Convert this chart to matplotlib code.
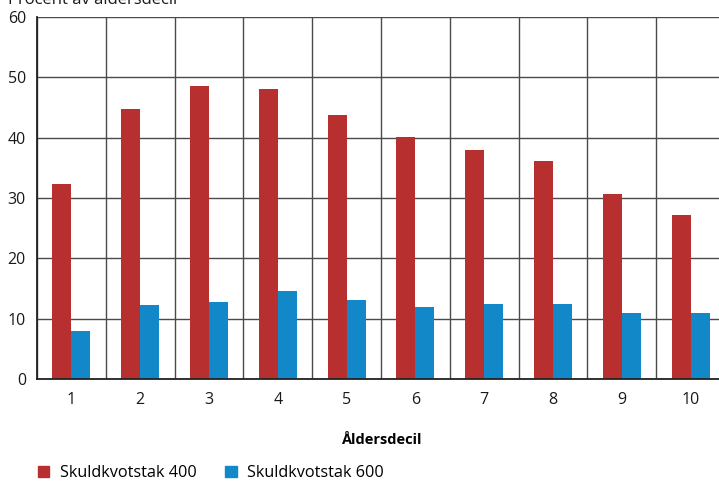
import matplotlib.pyplot as plt
import numpy as np
from matplotlib.patches import Patch

plt.rcParams['font.family'] = ['Open Sans', 'DejaVu Sans']

deciles = ['1', '2', '3', '4', '5', '6', '7', '8', '9', '10']
tak_400 = [32.3, 44.7, 48.6, 48.1, 43.7, 40.1, 38.0, 36.2, 30.6, 27.2]
tak_600 = [7.9, 12.2, 12.7, 14.6, 13.1, 11.9, 12.4, 12.4, 11.0, 11.0]

red = '#B7302F'
blue = '#1388C8'

fig = plt.figure(figsize=(7.19, 4.82), dpi=100)
ax = fig.add_axes([37 / 719, 103 / 482, 688 / 719, 362 / 482])

x = np.arange(len(deciles))
w = 0.277
ax.bar(x - w / 2, tak_400, width=w, color=red, zorder=3)
ax.bar(x + w / 2, tak_600, width=w, color=blue, zorder=3)

ax.set_xlim(-0.5, len(deciles) - 0.5)
ax.set_ylim(0, 60)
ax.set_yticks(range(0, 61, 10))
ax.set_xticks(x)
ax.set_xticklabels(deciles)
ax.set_xticks(np.arange(-0.5, len(deciles), 1), minor=True)

ax.grid(True, axis='y', which='major', color='#4a4a4a', lw=1, zorder=1)
ax.grid(True, axis='x', which='minor', color='#4a4a4a', lw=1, zorder=1)
ax.tick_params(which='both', length=0, labelsize=11.5, colors='#1a1a1a')
ax.tick_params(axis='x', pad=9)
ax.tick_params(axis='y', pad=8)

for s in ['top', 'right']:
    ax.spines[s].set_visible(False)
for s in ['left', 'bottom']:
    ax.spines[s].set_color('#222222')
    ax.spines[s].set_linewidth(1.3)
    ax.spines[s].set_zorder(4)

ax.set_xlabel('Åldersdecil', fontsize=10.5, fontweight='bold', labelpad=18)

fig.text(8 / 719, 1 - 4 / 482, 'Procent av åldersdecil', fontsize=12,
         va='baseline', ha='left', color='#1a1a1a')

handles = [Patch(color=red, label='Skuldkvotstak 400'),
           Patch(color=blue, label='Skuldkvotstak 600')]
fig.legend(handles=handles, loc='lower left', bbox_to_anchor=(23 / 719, -14 / 482),
           ncol=2, frameon=False, fontsize=11.7, handlelength=0.72, handleheight=0.72,
           handletextpad=0.65, columnspacing=1.75)

fig.savefig('out.png', dpi=100)
